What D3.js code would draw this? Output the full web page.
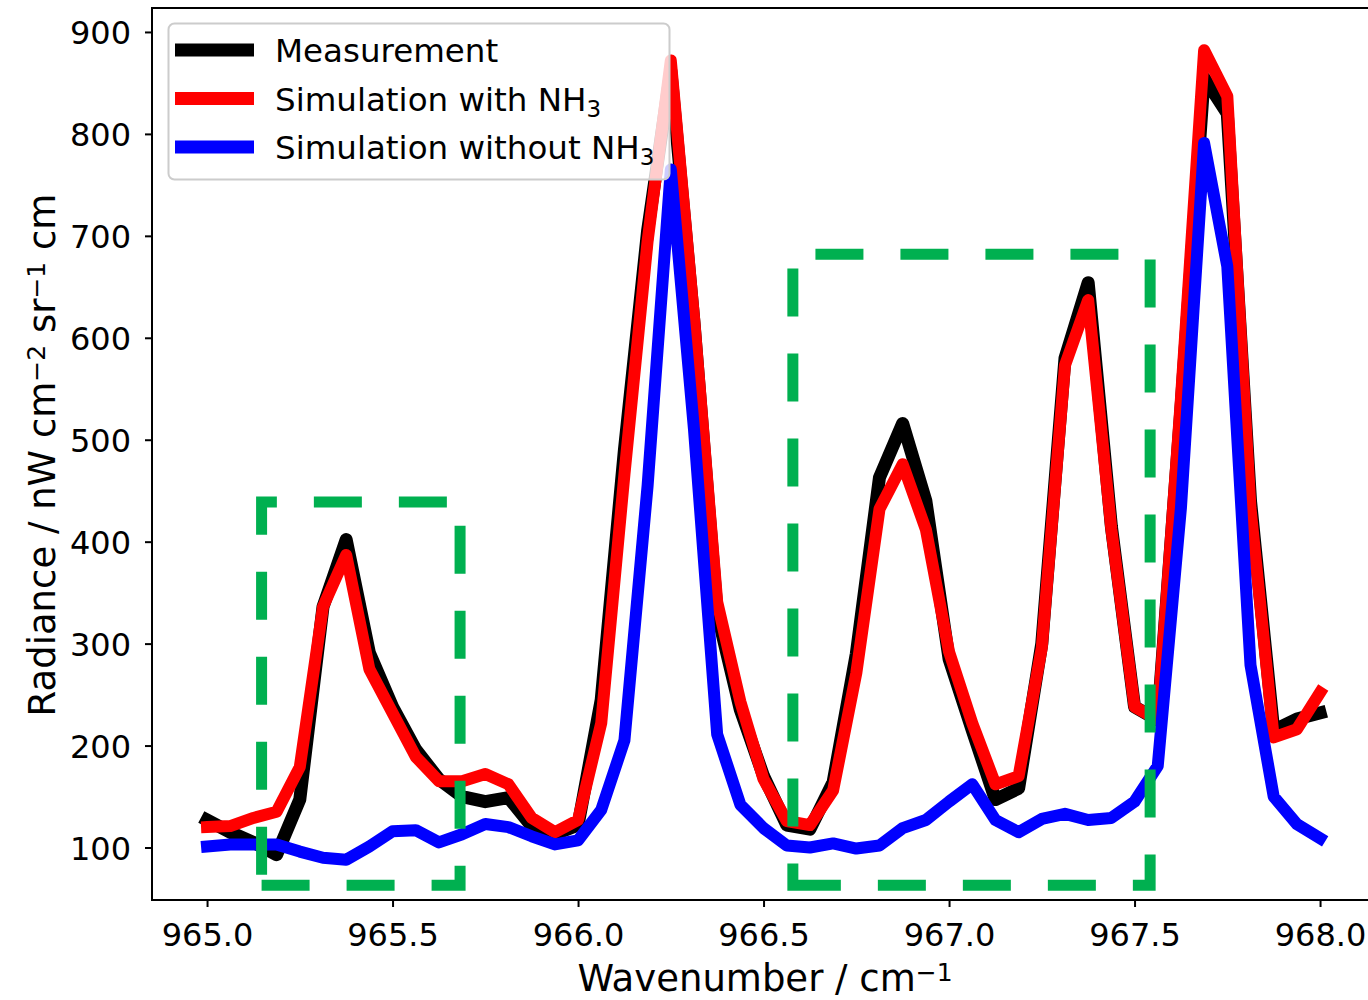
<!DOCTYPE html>
<html>
<head>
<meta charset="utf-8">
<script src="https://cdn.jsdelivr.net/npm/d3@7"></script>
<style>
  body { margin: 0; background: #fff; }
  text { font-family: "DejaVu Sans", sans-serif; }
</style>
</head>
<body>
<div id="chart"></div>
<script>
// wavenumber grid, 0.0625 cm-1 steps from 965 to 968
var wavenumber = d3.range(49).map(function(i) { return 965 + i * 0.0625; });

var measurement = [127, 115, 105, 93, 147, 336, 402, 291, 238, 196, 167, 150, 145, 149, 121, 113,
  122, 245, 490, 705, 862, 615, 330, 235, 170, 122, 118, 164, 290, 463, 516, 440,
  285, 215, 147, 158, 300, 580, 654, 415, 238, 225, 530, 855, 820, 440, 215, 226, 232];

var withNH3 = [120, 121, 129, 135, 179, 336, 387, 275, 232, 189, 165, 165, 172, 162, 129, 115,
  127, 222, 466, 695, 872, 620, 341, 243, 167, 126, 122, 156, 271, 432, 476, 412,
  292, 222, 162, 170, 296, 573, 637, 412, 238, 225, 540, 882, 837, 433, 208, 216, 252];

var withoutNH3 = [101, 103, 103, 103, 96, 90, 88, 101, 116, 117, 105, 113, 123, 120, 111, 103,
  107, 137, 205, 455, 765, 510, 211, 142, 119, 102, 100, 104, 99, 102, 119, 127,
  145, 162, 127, 115, 128, 133, 127, 129, 145, 180, 433, 791, 670, 279, 150, 123, 109];

var seriesNames = ["Measurement", "Simulation with NH", "Simulation without NH"];
var seriesColors = ["#000000", "#ff0000", "#0000ff"];

var xTicks = [965.0, 965.5, 966.0, 966.5, 967.0, 967.5, 968.0];
var yTicks = [100, 200, 300, 400, 500, 600, 700, 800, 900];

// highlighted regions (x0, x1, y0, y1)
var boxX0 = [965.147, 966.579];
var boxX1 = [965.682, 967.542];
var boxY0 = [63, 63];
var boxY1 = [439, 682];

var width = 1368, height = 1000;

var x = d3.scaleLinear().domain([964.85, 968.15]).range([151.4, 1375.7]);
var y = d3.scaleLinear().domain([48.5, 923.5]).range([900, 8]);

var svg = d3.select("#chart").append("svg")
  .attr("width", width)
  .attr("height", height);

var plot = svg.append("g");

var line = d3.line()
  .x(function(d, i) { return x(wavenumber[i]); })
  .y(function(d) { return y(d); });

var allSeries = [measurement, withNH3, withoutNH3];
var widths = [13, 12, 12];

allSeries.forEach(function(s, k) {
  plot.append("path")
    .datum(s)
    .attr("d", line)
    .attr("fill", "none")
    .attr("stroke", seriesColors[k])
    .attr("stroke-width", widths[k])
    .attr("stroke-linejoin", "round")
    .attr("stroke-linecap", "square");
});

// green dashed boxes, path starts bottom-left going right like a matplotlib Rectangle
boxX0.forEach(function(bx, k) {
  var p = d3.path();
  p.moveTo(x(bx), y(boxY0[k]));
  p.lineTo(x(boxX1[k]), y(boxY0[k]));
  p.lineTo(x(boxX1[k]), y(boxY1[k]));
  p.lineTo(x(bx), y(boxY1[k]));
  p.closePath();
  plot.append("path")
    .attr("d", p.toString())
    .attr("fill", "none")
    .attr("stroke", "#00b050")
    .attr("stroke-width", 11)
    .attr("stroke-dasharray", "48,37");
});

// axes
var xAxis = svg.append("g")
  .attr("transform", "translate(0,900)")
  .call(d3.axisBottom(x).tickValues(xTicks).tickFormat(d3.format(".1f")).tickSize(7).tickPadding(16).tickSizeOuter(0));

var yAxis = svg.append("g")
  .attr("transform", "translate(152,0)")
  .call(d3.axisLeft(y).tickValues(yTicks).tickSize(7).tickPadding(14).tickSizeOuter(0));

[xAxis, yAxis].forEach(function(a) {
  a.select(".domain").remove();
  a.selectAll(".tick line").attr("stroke", "#000").attr("stroke-width", 2);
  a.selectAll(".tick text").attr("fill", "#000").style("font-size", "32px");
});
yAxis.selectAll(".tick text").attr("dy", "0.36em");

// frame
svg.append("rect")
  .attr("x", 152).attr("y", 8)
  .attr("width", 1224).attr("height", 892)
  .attr("fill", "none")
  .attr("stroke", "#000")
  .attr("stroke-width", 2);

// axis labels
var xl = svg.append("text")
  .attr("x", 765).attr("y", 991)
  .attr("text-anchor", "middle")
  .style("font-size", "37px");
xl.append("tspan").text("Wavenumber / cm");
xl.append("tspan").attr("dy", -10).style("font-size", "25px").text("\u22121");

var yl = svg.append("text")
  .attr("transform", "translate(55,455) rotate(-90)")
  .attr("text-anchor", "middle")
  .style("font-size", "37px");
yl.append("tspan").text("Radiance / nW cm");
yl.append("tspan").attr("dy", -10).style("font-size", "25px").text("\u22122");
yl.append("tspan").attr("dy", 10).text(" sr");
yl.append("tspan").attr("dy", -10).style("font-size", "25px").text("\u22121");
yl.append("tspan").attr("dy", 10).text(" cm");

// legend
var legend = svg.append("g");
legend.append("rect")
  .attr("x", 168.5).attr("y", 23.5)
  .attr("width", 501).attr("height", 156)
  .attr("rx", 6)
  .attr("fill", "#fff")
  .attr("fill-opacity", 0.8)
  .attr("stroke", "#cccccc")
  .attr("stroke-width", 2);

seriesNames.forEach(function(name, k) {
  var ly = 50 + k * 48.5;
  legend.append("line")
    .attr("x1", 175).attr("x2", 254)
    .attr("y1", ly).attr("y2", ly)
    .attr("stroke", seriesColors[k])
    .attr("stroke-width", 13);
  var t = legend.append("text")
    .attr("x", 275).attr("y", ly + 12)
    .style("font-size", "32.5px")
    .attr("fill", "#000");
  t.append("tspan").text(name);
  if (k > 0) {
    t.append("tspan").attr("dy", 6).style("font-size", "23px").text("3");
  }
});
</script>
</body>
</html>
